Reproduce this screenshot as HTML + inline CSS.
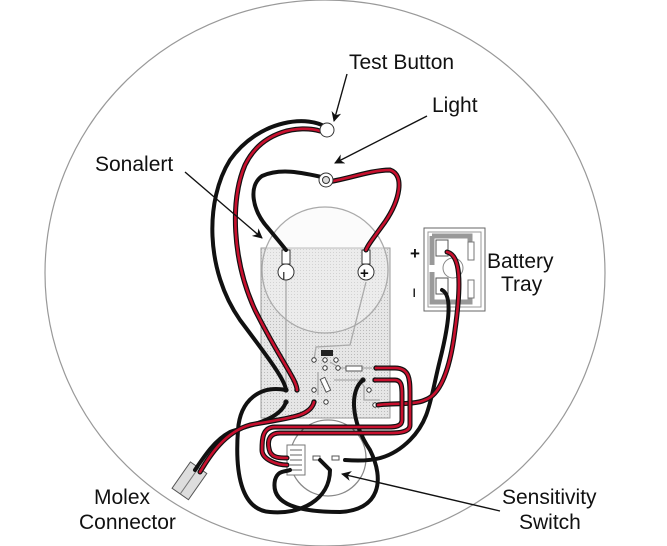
<!DOCTYPE html>
<html><head><meta charset="utf-8"><style>
html,body{margin:0;padding:0;background:#fff;}
svg{display:block;}
text{font-family:"Liberation Sans",Arial,sans-serif;font-size:21px;fill:#111;}
.bk{fill:none;stroke:#111;stroke-width:4;stroke-linecap:round;stroke-linejoin:round;}
.ro{fill:none;stroke:#111;stroke-width:5;stroke-linecap:round;}
.ri{fill:none;stroke:#c8102e;stroke-width:2.6;stroke-linecap:round;}
.g{fill:none;stroke:#aaa;stroke-width:1.3;}
</style></head><body>
<svg width="667" height="546" viewBox="0 0 667 546" xmlns="http://www.w3.org/2000/svg">
<defs>
<pattern id="dots" width="3" height="3" patternUnits="userSpaceOnUse"><rect width="3" height="3" fill="#e6e6e6"/><rect width="1" height="1" fill="#bbb"/></pattern>
<marker id="ah" markerWidth="10" markerHeight="10" refX="9" refY="5" orient="auto" markerUnits="userSpaceOnUse"><path d="M0,0 L10,5 L0,10 L3,5 z" fill="#111"/></marker>
</defs>
<ellipse cx="325" cy="273" rx="280" ry="273" fill="none" stroke="#999" stroke-width="1.2"/>
<rect x="261" y="248" width="129" height="170" fill="url(#dots)" stroke="#999" stroke-width="1"/>
<circle cx="325" cy="270" r="63" fill="#f4f4f4" fill-opacity="0.4" stroke="#aaa" stroke-width="1.3"/>
<path class="g" d="M286 280 V390 M366 282 L350 345 L316 347 L314 360"/>
<path class="g" d="M330 362 L340 368 L372 368 M318 372 L318 395 M334 380 L360 380 L365 388 M364 388 L364 400 L380 400"/>
<rect x="321" y="350" width="12" height="6" fill="#222"/>
<rect x="346" y="366" width="16" height="5" fill="#fff" stroke="#555"/>
<rect x="323" y="378" width="5" height="14" fill="#fff" stroke="#555" transform="rotate(-25 325 385)"/>
<g fill="#fff" stroke="#333" stroke-width="1">
<circle cx="314" cy="360" r="2.2"/><circle cx="325" cy="360" r="2.2"/><circle cx="336" cy="360" r="2.2"/>
<circle cx="325" cy="368" r="2.2"/><circle cx="338" cy="368" r="2.2"/><circle cx="376" cy="368" r="2.2"/>
<circle cx="363" cy="380" r="2.2"/><circle cx="375" cy="380" r="2.2"/><circle cx="369" cy="390" r="2.2"/>
<circle cx="375" cy="405" r="2.2"/><circle cx="286" cy="390" r="2.2"/><circle cx="297" cy="390" r="2.2"/>
<circle cx="314" cy="390" r="2.2"/><circle cx="286" cy="402" r="2.2"/><circle cx="314" cy="402" r="2.2"/><circle cx="326" cy="402" r="2.2"/>
</g>
<rect x="282" y="250" width="8" height="14" fill="#fff" stroke="#333"/>
<rect x="362" y="250" width="8" height="14" fill="#fff" stroke="#333"/>
<circle cx="286" cy="272" r="8" fill="#fff" stroke="#333"/><text x="282" y="279" style="font-size:13px">ı</text>
<circle cx="366" cy="272" r="8" fill="#fff" stroke="#333"/><text x="360" y="278" style="font-size:15px;font-weight:bold">+</text>
<rect x="424" y="228" width="61" height="83" fill="#fff" stroke="#666"/>
<rect x="428" y="232" width="53" height="75" fill="none" stroke="#999"/>
<path d="M432 236 H470 V255 M432 236 V265 M432 272 V302 H470 V285" fill="none" stroke="#999" stroke-width="5"/>
<rect x="436" y="240" width="12" height="16" fill="#fff" stroke="#555"/>
<rect x="436" y="278" width="12" height="16" fill="#fff" stroke="#555"/>
<rect x="468" y="242" width="6" height="18" fill="#fff" stroke="#777"/>
<rect x="468" y="280" width="6" height="18" fill="#fff" stroke="#777"/>
<circle cx="453" cy="268" r="10" fill="#fff" stroke="#888"/>
<circle cx="328" cy="458" r="38" fill="#fff" stroke="#888" stroke-width="1.3"/>
<rect x="313" y="456" width="7" height="4" fill="#fff" stroke="#555"/>
<rect x="332" y="456" width="7" height="4" fill="#fff" stroke="#555"/>
<rect x="287" y="445" width="18" height="30" fill="#fff" stroke="#777"/>
<path d="M290 450 H302 M290 455 H302 M290 460 H302 M290 465 H302 M290 470 H302" stroke="#666"/>
<g transform="rotate(35 190 480)"><rect x="180" y="465" width="20" height="32" fill="#ddd" stroke="#555"/><path d="M190 465 V497" stroke="#777"/></g>
<path class="bk" d="M327 128 C310 115 260 118 230 160 C205 200 205 270 240 320 C270 360 285 380 286 390"/>
<path class="bk" d="M326 178 C300 172 280 168 262 176 C248 186 252 210 268 228 C278 240 283 246 286 250"/>
<path class="bk" d="M442 290 C452 295 450 320 440 360 C430 400 430 420 410 440 C390 460 370 462 345 460"/>
<path class="bk" d="M286 390 C260 385 240 400 238 430 C235 470 240 510 270 512 C300 515 330 500 330 470 L320 460"/>
<path class="bk" d="M286 402 C280 420 250 425 230 432 C215 440 205 455 195 470"/>
<path class="bk" d="M363 380 C350 390 350 420 370 450 C385 480 380 510 340 512 C300 512 270 505 275 480 C278 470 285 472 290 470"/>
<g>
<path class="ro" d="M320 131 C300 125 262 130 245 165 C230 200 232 260 255 310 C280 360 297 380 297 390"/>
<path class="ri" d="M320 131 C300 125 262 130 245 165 C230 200 232 260 255 310 C280 360 297 380 297 390"/>
<path class="ro" d="M327 182 C345 180 370 170 390 170 C405 175 400 200 385 222 C372 240 368 245 366 250"/>
<path class="ri" d="M327 182 C345 180 370 170 390 170 C405 175 400 200 385 222 C372 240 368 245 366 250"/>
<path class="ro" d="M447 252 C460 255 462 280 455 330 C450 370 440 395 425 400 C415 405 390 403 378 405"/>
<path class="ri" d="M447 252 C460 255 462 280 455 330 C450 370 440 395 425 400 C415 405 390 403 378 405"/>
<path class="ro" d="M376 368 H395 C410 368 410 380 410 395 V425 C410 432 400 433 390 433 H280 C270 433 266 440 270 452 C273 458 280 458 287 458"/>
<path class="ri" d="M376 368 H395 C410 368 410 380 410 395 V425 C410 432 400 433 390 433 H280 C270 433 266 440 270 452 C273 458 280 458 287 458"/>
<path class="ro" d="M375 380 H395 C402 380 402 388 402 395 V420 C402 426 396 427 388 427 H275 C262 427 262 440 262 450 C262 460 278 465 287 465"/>
<path class="ri" d="M375 380 H395 C402 380 402 388 402 395 V420 C402 426 396 427 388 427 H275 C262 427 262 440 262 450 C262 460 278 465 287 465"/>
<path class="ro" d="M314 402 C310 418 285 418 250 425 C225 432 210 455 200 472"/>
<path class="ri" d="M314 402 C310 418 285 418 250 425 C225 432 210 455 200 472"/>
</g>
<circle cx="327" cy="130" r="7" fill="#fff" stroke="#333"/>
<circle cx="326" cy="180" r="7" fill="#fff" stroke="#333"/><circle cx="326" cy="180" r="3.5" fill="#ddd" stroke="#333"/>
<g stroke="#111" stroke-width="1.4" fill="none">
<line x1="347" y1="74" x2="334" y2="121" marker-end="url(#ah)"/>
<line x1="427" y1="116" x2="335" y2="163" marker-end="url(#ah)"/>
<line x1="185" y1="172" x2="262" y2="238" marker-end="url(#ah)"/>
<line x1="500" y1="511" x2="342" y2="474" marker-end="url(#ah)"/>
</g>
<text x="349" y="69">Test Button</text>
<text x="432" y="112">Light</text>
<text x="95" y="171">Sonalert</text>
<text x="487" y="268">Battery</text>
<text x="501" y="291">Tray</text>
<text x="410" y="259" style="font-weight:bold;font-size:17px">+</text>
<text x="412" y="297" style="font-size:16px">ı</text>
<text x="94" y="504">Molex</text>
<text x="79" y="529">Connector</text>
<text x="502" y="504">Sensitivity</text>
<text x="519" y="529">Switch</text>
</svg>
</body></html>
